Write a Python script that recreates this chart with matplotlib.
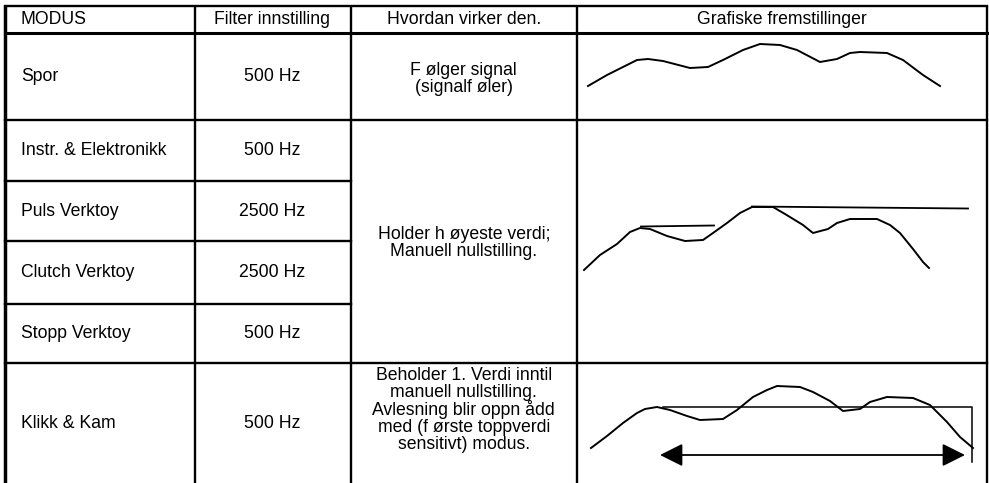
import numpy as np
import matplotlib
matplotlib.use('Agg')
import matplotlib.pyplot as plt

plt.rcParams['font.family'] = ['Liberation Sans', 'DejaVu Sans']

# table contents
headers = ['MODUS', 'Filter innstilling', 'Hvordan virker den.', 'Grafiske fremstillinger']
modes = ['Spor', 'Instr. & Elektronikk', 'Puls Verktoy', 'Clutch Verktoy',
         'Stopp Verktoy', 'Klikk & Kam']
filters = ['500 Hz', '500 Hz', '2500 Hz', '2500 Hz', '500 Hz', '500 Hz']
how_spor = 'F ølger signal\n(signalf øler)'
how_hold = 'Holder h øyeste verdi;\nManuell nullstilling.'
how_klikk = ('Beholder 1. Verdi inntil\nmanuell nullstilling.\n'
             'Avlesning blir oppn ådd\nmed (f ørste toppverdi\nsensitivt) modus.')

# sketch 1: signal follower (time, level)
s1_t = [11, 30, 50, 60, 71, 86, 113, 131, 146, 166, 183, 203, 220, 243,
        260, 273, 283, 310, 326, 346, 363]
s1_v = [34, 45, 55, 60, 61, 59, 52, 53, 60, 70, 76, 75, 70, 58,
        61, 67, 68, 67, 60, 45, 34]

# sketch 2: peak hold
s2_t = [7, 23, 40, 53, 63, 73, 90, 108, 126, 136, 150, 163, 175, 196, 208,
        226, 236, 251, 260, 273, 300, 313, 323, 336, 346, 352]
s2_v = [93, 108, 119, 131, 135, 134, 127, 122, 123, 130, 140, 150, 156, 156,
        149, 138, 130, 134, 140, 144, 144, 138, 130, 114, 101, 95]
s2_hold1_t = [64, 137]
s2_hold1_v = [136.5, 137.5]
s2_hold2_t = [175, 391]
s2_hold2_v = [156.5, 154.5]

# sketch 3: first peak hold
s3_t = [14, 30, 46, 60, 68, 80, 93, 110, 123, 146, 160, 176, 190, 200, 223,
        236, 253, 266, 283, 293, 310, 336, 353, 370, 383, 396]
s3_v = [35, 47, 60, 70, 74, 76, 73, 67, 63, 64, 73, 86, 93, 97, 96,
        91, 82, 72, 74, 81, 86, 85, 78, 61, 46, 35]
s3_hold_t = [86, 395, 395]
s3_hold_v = [76, 76, 21]
s3_span_t = [83, 388]
s3_span_v = 28

W, H = 989, 483
fig = plt.figure(figsize=(W / 100, H / 100), dpi=100)
ax = fig.add_axes([0, 0, 1, 1])
ax.set_xlim(0, W)
ax.set_ylim(H, 0)
ax.axis('off')

cols = [5, 194.5, 350.5, 577, 987]
rows = [6, 32.5, 120, 181, 241, 304, 363, H]
lw = 1.7
fs = 12.7

# grid
ax.plot([cols[0]] * 2, [rows[0], H], color='black', lw=2.5, solid_capstyle='butt')
for x in cols[1:]:
    ax.plot([x, x], [rows[0], H], color='black', lw=lw, solid_capstyle='butt')
ax.plot([cols[0], cols[-1]], [rows[0]] * 2, color='black', lw=lw)
ax.plot([cols[0], cols[-1]], [rows[1]] * 2, color='black', lw=2.2)
for y in rows[2:-1]:
    x_end = cols[-1] if y in (rows[2], rows[6]) else cols[2]
    ax.plot([cols[0], x_end], [y, y], color='black', lw=lw)

# header
ax.text(21, (rows[0] + rows[1]) / 2, headers[0], ha='left', va='center', fontsize=fs)
for j in range(1, 4):
    ax.text((cols[j] + cols[j + 1]) / 2, (rows[0] + rows[1]) / 2 + 0.5, headers[j],
            ha='center', va='center', fontsize=fs)

for i, (m, f) in enumerate(zip(modes, filters)):
    yc = (rows[i + 1] + rows[i + 2]) / 2
    ax.text(21, yc, m, ha='left', va='center', fontsize=fs)
    ax.text((cols[1] + cols[2]) / 2, yc, f, ha='center', va='center', fontsize=fs)

c3 = (cols[2] + cols[3]) / 2
ax.text(c3, 79, how_spor, ha='center', va='center', fontsize=fs, linespacing=1.0)
ax.text(c3, 243, how_hold, ha='center', va='center', fontsize=fs, linespacing=1.0)
ax.text(c3, 367, how_klikk, ha='center', va='top', fontsize=fs, linespacing=0.98)


def cell_axes(top, bottom):
    a = fig.add_axes([cols[3] / W, (H - bottom) / H, (cols[4] - cols[3]) / W,
                      (bottom - top) / H])
    a.set_xlim(0, cols[4] - cols[3])
    a.set_ylim(0, bottom - top)
    a.axis('off')
    return a


g1 = cell_axes(rows[1], rows[2])
g1.plot(s1_t, s1_v, color='black', lw=1.4)

g2 = cell_axes(rows[2], rows[6])
g2.plot(s2_t, s2_v, color='black', lw=1.4)
g2.plot(s2_hold1_t, s2_hold1_v, color='black', lw=1.3)
g2.plot(s2_hold2_t, s2_hold2_v, color='black', lw=1.3)

g3 = cell_axes(rows[6], rows[7])
g3.plot(s3_t, s3_v, color='black', lw=1.4)
g3.plot(s3_hold_t, s3_hold_v, color='black', lw=1.1)
g3.annotate('', xy=(s3_span_t[1], s3_span_v), xytext=(s3_span_t[0], s3_span_v),
            arrowprops=dict(arrowstyle='<|-|>,head_length=1.0,head_width=0.5',
                            mutation_scale=14, color='black', lw=1.3,
                            shrinkA=0, shrinkB=0))

fig.savefig('out.png', dpi=100)
